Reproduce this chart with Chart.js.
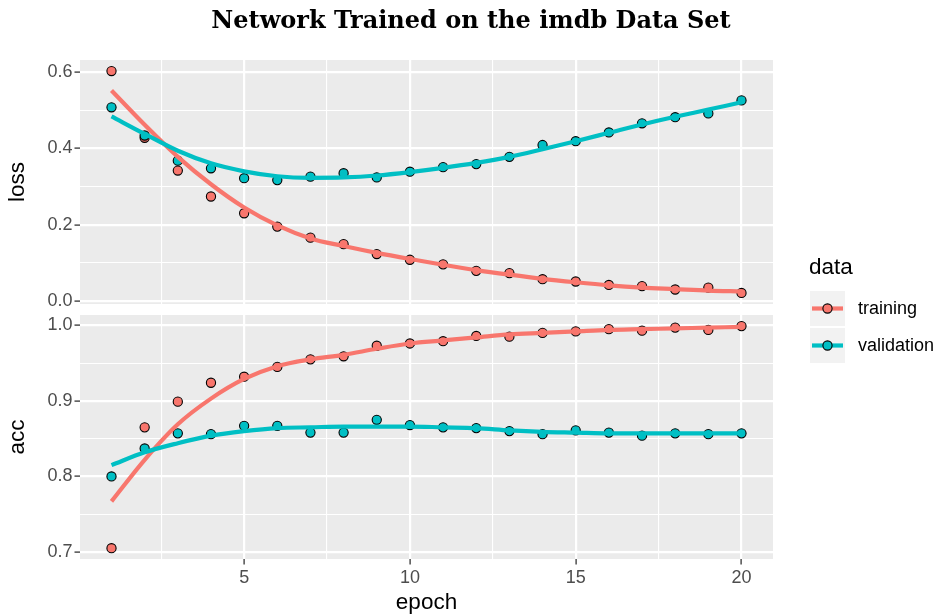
<!DOCTYPE html>
<html>
<head>
<meta charset="utf-8">
<title>Network Trained on the imdb Data Set</title>
<script src="https://cdn.jsdelivr.net/npm/chart.js@4.4.1/dist/chart.umd.min.js"></script>
<style>
  html, body { margin: 0; padding: 0; background: #ffffff; }
  #wrap { position: relative; width: 938px; height: 616px; }
  #wrap canvas { position: absolute; left: 0; top: 0; }
</style>
</head>
<body>
<div id="wrap">
  <canvas id="lossChart" width="938" height="616"></canvas>
  <canvas id="accChart" width="938" height="616"></canvas>
</div>
<script>
// ---- data ----------------------------------------------------------------
const epochs = [1, 2, 3, 4, 5, 6, 7, 8, 9, 10, 11, 12, 13, 14, 15, 16, 17, 18, 19, 20];

const trainingLoss   = [0.603, 0.428, 0.342, 0.274, 0.230, 0.195, 0.166, 0.149, 0.123, 0.108,
                        0.096, 0.079, 0.073, 0.057, 0.051, 0.042, 0.039, 0.030, 0.035, 0.021];
const validationLoss = [0.508, 0.434, 0.368, 0.348, 0.322, 0.317, 0.326, 0.335, 0.324, 0.339,
                        0.351, 0.359, 0.378, 0.409, 0.419, 0.442, 0.466, 0.482, 0.492, 0.526];
const trainingAcc    = [0.705, 0.865, 0.899, 0.924, 0.932, 0.945, 0.955, 0.959, 0.973, 0.976,
                        0.979, 0.986, 0.985, 0.990, 0.992, 0.995, 0.993, 0.997, 0.994, 0.999];
const validationAcc  = [0.800, 0.837, 0.857, 0.856, 0.867, 0.867, 0.858, 0.858, 0.875, 0.868,
                        0.865, 0.864, 0.860, 0.856, 0.861, 0.858, 0.854, 0.857, 0.856, 0.857];

// smoothed (loess) trend per epoch
const trainingLossFit   = [0.552, 0.462, 0.378, 0.306, 0.245, 0.198, 0.164, 0.144, 0.126, 0.110,
                           0.095, 0.081, 0.069, 0.058, 0.049, 0.041, 0.035, 0.031, 0.027, 0.025];
const validationLossFit = [0.484, 0.438, 0.394, 0.361, 0.340, 0.327, 0.323, 0.324, 0.329, 0.338,
                           0.349, 0.362, 0.378, 0.398, 0.419, 0.441, 0.463, 0.483, 0.502, 0.521];
const trainingAccFit    = [0.767, 0.822, 0.869, 0.903, 0.929, 0.946, 0.955, 0.961, 0.969, 0.976,
                           0.980, 0.984, 0.988, 0.990, 0.992, 0.994, 0.995, 0.996, 0.997, 0.998];
const validationAccFit  = [0.815, 0.832, 0.844, 0.854, 0.860, 0.864, 0.865, 0.866, 0.866, 0.866,
                           0.865, 0.864, 0.861, 0.859, 0.858, 0.857, 0.857, 0.857, 0.857, 0.857];

const seriesNames = ['training', 'validation'];

// axis ticks (major carry labels, minor only draw a thin grid line)
const epochTicks      = [5, 10, 15, 20];
const epochMinorTicks = [2.5, 7.5, 12.5, 17.5];
const lossTicks       = [0.0, 0.2, 0.4, 0.6];
const lossMinorTicks  = [0.1, 0.3, 0.5];
const accTicks        = [0.7, 0.8, 0.9, 1.0];
const accMinorTicks   = [0.75, 0.85, 0.95];

// axis limits
const epochRange = [0.05, 20.95];
const lossRange  = [-0.008, 0.632];
const accRange   = [0.6907, 1.0137];

// ---- styling -------------------------------------------------------------
const COLORS = { training: '#F8766D', validation: '#00BFC4' };
const SANS = '"Liberation Sans", Arial, Helvetica, sans-serif';
const PANEL_BG = '#EBEBEB';

Chart.defaults.font.family = SANS;

const pts = arr => epochs.map((e, i) => ({ x: e, y: arr[i] }));

function pointSet(name, values, order) {
  return {
    label: name, data: pts(values), order,
    showLine: false,
    pointRadius: 4.6, pointHoverRadius: 4.6,
    pointBorderWidth: 1.1,
    pointBorderColor: '#000000',
    pointBackgroundColor: COLORS[name],
    backgroundColor: COLORS[name], borderColor: COLORS[name]
  };
}
function fitSet(name, values, order) {
  return {
    label: name + ' fit', data: pts(values), order,
    showLine: true, pointRadius: 0, pointHoverRadius: 0,
    borderColor: COLORS[name], borderWidth: 4.2,
    cubicInterpolationMode: 'monotone', fill: false
  };
}

function tickList(major, minor) {
  return [...major, ...minor].sort((a, b) => a - b).map(v => ({ value: v }));
}

function gridOpts(minor) {
  return {
    color: '#FFFFFF',
    lineWidth: ctx => (ctx.tick && minor.includes(ctx.tick.value)) ? 1.1 : 2.2,
    tickColor: ctx => (ctx.tick && minor.includes(ctx.tick.value)) ? 'rgba(0,0,0,0)' : '#333333',
    tickWidth: 1.3,
    tickLength: 5.5
  };
}

function yAxis(range, major, minor, title) {
  return {
    type: 'linear', min: range[0], max: range[1],
    afterFit: s => { s.width = 80; },
    afterBuildTicks: s => { s.ticks = tickList(major, minor); },
    ticks: {
      autoSkip: false,
      callback: v => major.includes(v) ? v.toFixed(1) : '',
      color: '#4D4D4D', font: { size: 18 }, padding: 2
    },
    grid: gridOpts(minor),
    border: { display: false },
    title: { display: true, text: title, color: '#000000', font: { size: 22.5 }, padding: { top: 4, bottom: 0 } }
  };
}

function xAxis(showLabels) {
  return {
    type: 'linear', min: epochRange[0], max: epochRange[1],
    afterFit: s => { s.height = showLabels ? 57 : 0; },
    afterBuildTicks: s => { s.ticks = tickList(epochTicks, epochMinorTicks); },
    ticks: {
      display: showLabels, autoSkip: false, maxRotation: 0,
      callback: v => epochTicks.includes(v) ? String(v) : '',
      color: '#4D4D4D', font: { size: 18 }, padding: 3
    },
    grid: Object.assign(gridOpts(epochMinorTicks), { drawTicks: showLabels }),
    border: { display: false },
    title: { display: showLabels, text: 'epoch', color: '#000000', font: { size: 22.5 }, padding: { top: 0, bottom: 0 } }
  };
}

// grey panel behind the grid
const panelBackground = {
  id: 'panelBackground',
  beforeDraw(chart) {
    const a = chart.chartArea, ctx = chart.ctx;
    ctx.save();
    ctx.fillStyle = PANEL_BG;
    ctx.fillRect(a.left, a.top, a.right - a.left, a.bottom - a.top);
    ctx.restore();
  }
};

// plot title centred over the whole figure
const plotTitle = {
  id: 'plotTitle',
  afterDraw(chart) {
    const ctx = chart.ctx;
    ctx.save();
    ctx.fillStyle = '#000000';
    ctx.font = 'bold 24px "DejaVu Serif", "Liberation Serif", serif';
    ctx.textAlign = 'center';
    ctx.textBaseline = 'middle';
    ctx.fillText('Network Trained on the imdb Data Set', 471, 22);
    ctx.restore();
  }
};

// ggplot-style legend: title, grey key boxes with line + point, labels
const seriesLegend = {
  id: 'seriesLegend',
  afterDraw(chart) {
    const ctx = chart.ctx;
    ctx.save();
    ctx.fillStyle = '#000000';
    ctx.font = '22.5px ' + SANS;
    ctx.textAlign = 'left';
    ctx.textBaseline = 'middle';
    ctx.fillText('data', 809, 268);
    seriesNames.forEach((name, i) => {
      const x = 810, y = 291 + i * 37, size = 35;
      const cx = x + size / 2, cy = y + size / 2;
      ctx.fillStyle = '#F2F2F2';
      ctx.fillRect(x, y, size, size);
      ctx.strokeStyle = COLORS[name];
      ctx.lineWidth = 4.2;
      ctx.beginPath();
      ctx.moveTo(x + 2, cy);
      ctx.lineTo(x + size - 2, cy);
      ctx.stroke();
      ctx.beginPath();
      ctx.arc(cx, cy, 4.6, 0, Math.PI * 2);
      ctx.fillStyle = COLORS[name];
      ctx.fill();
      ctx.lineWidth = 1.1;
      ctx.strokeStyle = '#000000';
      ctx.stroke();
      ctx.fillStyle = '#000000';
      ctx.font = '18px ' + SANS;
      ctx.fillText(name, 858, cy + 1);
    });
    ctx.restore();
  }
};

function panelChart(id, cfg) {
  return new Chart(document.getElementById(id), {
    type: 'line',
    data: {
      datasets: [
        fitSet('validation', cfg.validationFit, 0),
        fitSet('training', cfg.trainingFit, 1),
        pointSet('validation', cfg.validation, 2),
        pointSet('training', cfg.training, 3)
      ]
    },
    options: {
      responsive: false,
      animation: false,
      events: [],
      layout: { padding: cfg.padding },
      plugins: { legend: { display: false }, tooltip: { enabled: false }, title: { display: false } },
      scales: {
        x: xAxis(cfg.showX),
        y: yAxis(cfg.range, cfg.major, cfg.minor, cfg.title)
      }
    },
    plugins: [panelBackground].concat(cfg.extra)
  });
}

panelChart('lossChart', {
  training: trainingLoss, validation: validationLoss,
  trainingFit: trainingLossFit, validationFit: validationLossFit,
  range: lossRange, major: lossTicks, minor: lossMinorTicks, title: 'loss',
  showX: false,
  padding: { top: 60, bottom: 312, left: 0, right: 165 },
  extra: [plotTitle]
});

panelChart('accChart', {
  training: trainingAcc, validation: validationAcc,
  trainingFit: trainingAccFit, validationFit: validationAccFit,
  range: accRange, major: accTicks, minor: accMinorTicks, title: 'acc',
  showX: true,
  padding: { top: 315, bottom: 0, left: 0, right: 165 },
  extra: [seriesLegend]
});
</script>
</body>
</html>
